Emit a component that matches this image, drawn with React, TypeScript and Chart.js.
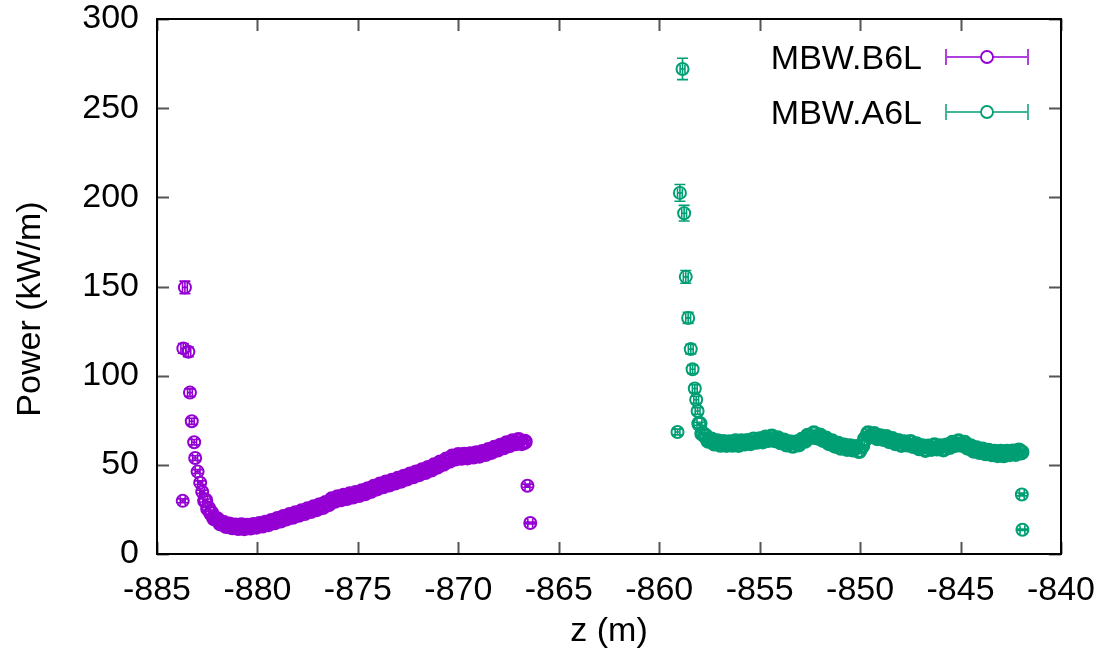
import React, { useEffect, useRef } from "react";
import { Chart, registerables } from "chart.js";

Chart.register(...registerables);

// ---- axis ticks ----
const xTickValues = [-885, -880, -875, -870, -865, -860, -855, -850, -845, -840];
const yTickValues = [0, 50, 100, 150, 200, 250, 300];

// ---- MBW.B6L ----
const b6lSpikeZ = [-883.72, -883.69, -883.61, -883.44, -883.36, -883.27, -883.15, -883.1, -882.98, -882.85, -882.75];
const b6lSpikeP = [29.8, 115.3, 149.5, 113.4, 90.5, 74.4, 62.7, 53.8, 46.2, 40.0, 34.9];
const b6lSpikeErr = [1.1, 2.7, 3.5, 2.7, 2.1, 1.7, 1.5, 1.3, 1.1, 1.0, 0.9];

const b6lBandZ = [
  -882.6, -882.45, -882.3, -882.15, -882.0, -881.85, -881.7, -881.55, -881.4, -881.25,
  -881.1, -880.95, -880.8, -880.65, -880.5, -880.35, -880.2, -880.05, -879.9, -879.75,
  -879.6, -879.45, -879.3, -879.15, -879.0, -878.85, -878.7, -878.55, -878.4, -878.25,
  -878.1, -877.95, -877.8, -877.65, -877.5, -877.35, -877.2, -877.05, -876.9, -876.75,
  -876.6, -876.45, -876.3, -876.15, -876.0, -875.85, -875.7, -875.55, -875.4, -875.25,
  -875.1, -874.95, -874.8, -874.65, -874.5, -874.35, -874.2, -874.05, -873.9, -873.75,
  -873.6, -873.45, -873.3, -873.15, -873.0, -872.85, -872.7, -872.55, -872.4, -872.25,
  -872.1, -871.95, -871.8, -871.65, -871.5, -871.35, -871.2, -871.05, -870.9, -870.75,
  -870.6, -870.45, -870.3, -870.15, -870.0, -869.85, -869.7, -869.55, -869.4, -869.25,
  -869.1, -868.95, -868.8, -868.65, -868.5, -868.35, -868.2, -868.05, -867.9, -867.75,
  -867.6, -867.45, -867.3, -867.15, -867.0, -866.85, -866.7,
];
const b6lBandP = [
  30.0, 25.5, 22.9, 20.1, 19.4, 17.2, 17.5, 15.7, 16.5, 15.0,
  15.9, 14.6, 16.0, 14.5, 15.8, 14.9, 16.2, 15.4, 16.8, 16.0,
  17.5, 16.8, 18.5, 17.8, 19.6, 18.8, 20.7, 20.0, 21.8, 20.9,
  22.8, 22.0, 23.9, 23.0, 25.0, 24.1, 26.1, 25.2, 27.3, 26.4,
  28.6, 28.0, 30.6, 29.9, 31.8, 30.7, 32.6, 31.4, 33.4, 32.3,
  34.2, 33.1, 35.1, 34.1, 36.3, 35.4, 37.6, 36.8, 38.9, 38.0,
  40.0, 39.0, 41.0, 40.1, 42.1, 41.2, 43.3, 42.4, 44.5, 43.6,
  45.7, 44.8, 46.9, 46.0, 48.2, 47.4, 49.7, 49.0, 51.3, 50.6,
  52.9, 52.3, 54.6, 53.6, 55.4, 54.0, 55.6, 54.2, 55.9, 54.7,
  56.4, 55.2, 57.1, 56.1, 58.2, 57.3, 59.5, 58.6, 60.7, 59.9,
  62.0, 61.1, 63.1, 62.1, 63.9, 62.2, 62.9,
];
const b6lTailZ = [-866.56, -866.42];
const b6lTailP = [38.3, 17.4];
const b6lTailErr = [0.9, 0.5];

// ---- MBW.A6L ----
const a6lSpikeZ = [-859.09, -858.97, -858.84, -858.76, -858.68, -858.56, -858.43, -858.34, -858.23, -858.16, -858.09];
const a6lSpikeP = [68.4, 202.5, 272.0, 191.1, 155.4, 132.4, 114.9, 103.6, 92.8, 86.5, 80.2];
const a6lSpikeErr = [1.6, 4.7, 6.0, 4.4, 3.6, 3.1, 2.7, 2.4, 2.2, 2.0, 1.9];

const a6lBandZ = [
  -858.0, -857.85, -857.7, -857.55, -857.4, -857.25, -857.1, -856.95, -856.8, -856.65,
  -856.5, -856.35, -856.2, -856.05, -855.9, -855.75, -855.6, -855.45, -855.3, -855.15,
  -855.0, -854.85, -854.7, -854.55, -854.4, -854.25, -854.1, -853.95, -853.8, -853.65,
  -853.5, -853.35, -853.2, -853.05, -852.9, -852.75, -852.6, -852.45, -852.3, -852.15,
  -852.0, -851.85, -851.7, -851.55, -851.4, -851.25, -851.1, -850.95, -850.8, -850.65,
  -850.5, -850.35, -850.2, -850.05, -849.9, -849.75, -849.6, -849.45, -849.3, -849.15,
  -849.0, -848.85, -848.7, -848.55, -848.4, -848.25, -848.1, -847.95, -847.8, -847.65,
  -847.5, -847.35, -847.2, -847.05, -846.9, -846.75, -846.6, -846.45, -846.3, -846.15,
  -846.0, -845.85, -845.7, -845.55, -845.4, -845.25, -845.1, -844.95, -844.8, -844.65,
  -844.5, -844.35, -844.2, -844.05, -843.9, -843.75, -843.6, -843.45, -843.3, -843.15,
  -843.0, -842.85, -842.7, -842.55, -842.4, -842.25, -842.1, -841.97,
];
const a6lBandP = [
  73.0, 67.5, 66.2, 63.5, 64.1, 62.0, 63.2, 61.3, 62.7, 61.2,
  62.6, 61.3, 63.1, 61.2, 63.2, 62.0, 63.3, 62.2, 64.2, 63.0,
  64.3, 63.2, 65.3, 64.0, 65.8, 63.9, 64.8, 62.7, 63.6, 61.4,
  62.6, 60.7, 62.4, 61.5, 64.0, 63.5, 66.3, 65.6, 67.6, 65.4,
  66.4, 64.0, 64.7, 62.2, 63.1, 60.8, 61.8, 59.6, 60.8, 59.0,
  60.4, 58.6, 60.0, 57.8, 60.5, 64.5, 67.6, 66.2, 67.2, 65.0,
  66.0, 64.6, 65.6, 63.3, 64.4, 62.2, 63.3, 61.2, 62.6, 61.4,
  62.8, 60.6, 61.5, 59.3, 60.4, 58.4, 60.2, 59.0, 60.9, 59.2,
  60.4, 58.7, 60.8, 60.0, 62.3, 61.2, 63.1, 61.3, 62.3, 59.7,
  60.3, 58.0, 59.2, 57.2, 58.5, 56.5, 57.8, 56.0, 57.3, 55.5,
  57.3, 55.4, 57.3, 56.0, 57.4, 56.2, 58.0, 57.0,
];
const a6lTailZ = [-841.95, -841.92];
const a6lTailP = [33.4, 13.6];
const a6lTailErr = [0.8, 0.4];

const seriesNames = ["MBW.B6L", "MBW.A6L"];
const seriesColors = ["#9400d3", "#009e73"];
const xTitle = "z (m)";
const yTitle = "Power (kW/m)";

const BAND_ERR = 0.8;
const X_ERR = 0.12;
const FONT = "'Liberation Sans', Arial, Helvetica, sans-serif";
const FONT_SIZE = 34;

type Pt = { x: number; y: number; e: number; band: boolean };

function buildPoints(
  sz: number[], sp: number[], se: number[],
  bz: number[], bp: number[],
  tz: number[], tp: number[], te: number[]
): Pt[] {
  const pts: Pt[] = [];
  sz.forEach((z, i) => pts.push({ x: z, y: sp[i], e: se[i], band: false }));
  bz.forEach((z, i) => pts.push({ x: z, y: bp[i], e: BAND_ERR, band: true }));
  tz.forEach((z, i) => pts.push({ x: z, y: tp[i], e: te[i], band: false }));
  return pts;
}

const frameAndErrors = {
  id: "frameAndErrors",
  beforeDatasetsDraw(chart: any) {
    const { ctx, chartArea, scales } = chart;
    const xs = scales.x;
    const ys = scales.y;
    ctx.save();
    ctx.beginPath();
    ctx.rect(chartArea.left, chartArea.top, chartArea.right - chartArea.left, chartArea.bottom - chartArea.top);
    ctx.clip();
    chart.data.datasets.forEach((ds: any) => {
      ctx.strokeStyle = ds.borderColor;
      ctx.lineWidth = 1.6;
      ds.data.forEach((p: Pt) => {
        const x = xs.getPixelForValue(p.x);
        const y1 = ys.getPixelForValue(p.y - p.e);
        const y2 = ys.getPixelForValue(p.y + p.e);
        const x1 = xs.getPixelForValue(p.x - X_ERR);
        const x2 = xs.getPixelForValue(p.x + X_ERR);
        const y = ys.getPixelForValue(p.y);
        ctx.beginPath();
        ctx.moveTo(x, y1);
        ctx.lineTo(x, y2);
        ctx.moveTo(x - 5.5, y1);
        ctx.lineTo(x + 5.5, y1);
        ctx.moveTo(x - 5.5, y2);
        ctx.lineTo(x + 5.5, y2);
        ctx.moveTo(x1, y);
        ctx.lineTo(x2, y);
        ctx.moveTo(x1, y - 4.5);
        ctx.lineTo(x1, y + 4.5);
        ctx.moveTo(x2, y - 4.5);
        ctx.lineTo(x2, y + 4.5);
        ctx.stroke();
      });
    });
    ctx.restore();
  },
  afterDraw(chart: any) {
    const { ctx, chartArea, scales } = chart;
    const { left, right, top, bottom } = chartArea;
    const xs = scales.x;
    const ys = scales.y;
    ctx.save();
    // tick marks (inward, mirrored)
    ctx.strokeStyle = "#555";
    ctx.lineWidth = 2;
    const tl = 12;
    ctx.beginPath();
    xTickValues.forEach((v) => {
      const x = Math.round(xs.getPixelForValue(v)) + 0.5;
      ctx.moveTo(x, bottom);
      ctx.lineTo(x, bottom - tl);
      ctx.moveTo(x, top);
      ctx.lineTo(x, top + tl);
    });
    yTickValues.forEach((v) => {
      const y = Math.round(ys.getPixelForValue(v)) + 0.5;
      ctx.moveTo(left, y);
      ctx.lineTo(left + tl, y);
      ctx.moveTo(right, y);
      ctx.lineTo(right - tl, y);
    });
    ctx.stroke();
    // border
    ctx.strokeStyle = "#000";
    ctx.lineWidth = 2;
    ctx.strokeRect(left, top, right - left, bottom - top);

    ctx.font = `${FONT_SIZE}px ${FONT}`;
    ctx.fillStyle = "#000";
    // y axis title
    ctx.save();
    ctx.translate(31, 309);
    ctx.rotate(-Math.PI / 2);
    ctx.textAlign = "center";
    ctx.textBaseline = "middle";
    ctx.fillText(yTitle, 0, 0);
    ctx.restore();

    // legend (gnuplot style, inside top right)
    ctx.textAlign = "right";
    ctx.textBaseline = "middle";
    const rowsY = [57, 112];
    seriesNames.forEach((name, i) => {
      const y = rowsY[i];
      ctx.fillStyle = "#000";
      ctx.fillText(name, 922, y + 3);
      const c = seriesColors[i];
      ctx.strokeStyle = c;
      ctx.globalAlpha = 0.75;
      ctx.lineWidth = 2;
      ctx.beginPath();
      ctx.moveTo(946, y);
      ctx.lineTo(1028, y);
      ctx.moveTo(946, y - 8);
      ctx.lineTo(946, y + 8);
      ctx.moveTo(1028, y - 8);
      ctx.lineTo(1028, y + 8);
      ctx.stroke();
      ctx.globalAlpha = 1;
      ctx.lineWidth = 1.8;
      ctx.fillStyle = "#fff";
      ctx.beginPath();
      ctx.arc(987, y, 6, 0, Math.PI * 2);
      ctx.fill();
      ctx.stroke();
    });
    ctx.restore();
  },
};

const radiusFor = (c: any) => (c.raw && c.raw.band ? 6.5 : 6);
const borderFor = (c: any) => (c.raw && c.raw.band ? 3.2 : 2);

export default function App() {
  const canvasRef = useRef<HTMLCanvasElement | null>(null);

  useEffect(() => {
    const canvas = canvasRef.current;
    if (!canvas) return;
    const b6l = buildPoints(b6lSpikeZ, b6lSpikeP, b6lSpikeErr, b6lBandZ, b6lBandP, b6lTailZ, b6lTailP, b6lTailErr);
    const a6l = buildPoints(a6lSpikeZ, a6lSpikeP, a6lSpikeErr, a6lBandZ, a6lBandP, a6lTailZ, a6lTailP, a6lTailErr);

    const chart = new Chart(canvas, {
      type: "scatter",
      data: {
        datasets: [
          {
            label: seriesNames[0],
            data: b6l as any,
            borderColor: seriesColors[0],
            backgroundColor: "rgba(0,0,0,0)",
            pointRadius: radiusFor,
            pointHoverRadius: radiusFor,
            pointBorderWidth: borderFor,
            showLine: false,
          },
          {
            label: seriesNames[1],
            data: a6l as any,
            borderColor: seriesColors[1],
            backgroundColor: "rgba(0,0,0,0)",
            pointRadius: radiusFor,
            pointHoverRadius: radiusFor,
            pointBorderWidth: borderFor,
            showLine: false,
          },
        ],
      },
      options: {
        animation: false,
        responsive: false,
        events: [],
        layout: { padding: { left: 0, right: 43, top: 19, bottom: 0 } },
        plugins: {
          legend: { display: false },
          tooltip: { enabled: false },
        },
        scales: {
          x: {
            type: "linear",
            min: -885,
            max: -840,
            grid: { display: false, drawTicks: false },
            border: { display: false },
            afterBuildTicks: (scale: any) => {
              scale.ticks = xTickValues.map((v) => ({ value: v }));
            },
            afterFit: (scale: any) => {
              scale.height = 100;
              scale.paddingLeft = 0;
              scale.paddingRight = 0;
              scale.paddingTop = 0;
              scale.paddingBottom = 0;
            },
            ticks: {
              autoSkip: false,
              maxRotation: 0,
              padding: 16,
              color: "#000",
              font: { family: FONT, size: FONT_SIZE },
              callback: (v: any) => String(v),
            },
            title: {
              display: true,
              text: xTitle,
              color: "#000",
              font: { family: FONT, size: FONT_SIZE },
              padding: { top: 0, bottom: 2 },
            },
          },
          y: {
            type: "linear",
            min: 0,
            max: 300,
            grid: { display: false, drawTicks: false },
            border: { display: false },
            afterBuildTicks: (scale: any) => {
              scale.ticks = yTickValues.map((v) => ({ value: v }));
            },
            afterFit: (scale: any) => {
              scale.width = 157;
              scale.paddingLeft = 0;
              scale.paddingRight = 0;
              scale.paddingTop = 0;
              scale.paddingBottom = 0;
            },
            ticks: {
              autoSkip: false,
              padding: 18,
              color: "#000",
              font: { family: FONT, size: FONT_SIZE },
              callback: (v: any) => String(v),
            },
            title: { display: false },
          },
        },
      },
      plugins: [frameAndErrors],
    });
    return () => chart.destroy();
  }, []);

  return (
    <div style={{ width: 1104, height: 654, position: "absolute", left: 0, top: 0, background: "#fff" }}>
      <style>{`body{margin:0;}`}</style>
      <canvas ref={canvasRef} width={1104} height={654} style={{ width: 1104, height: 654, display: "block" }} />
    </div>
  );
}
